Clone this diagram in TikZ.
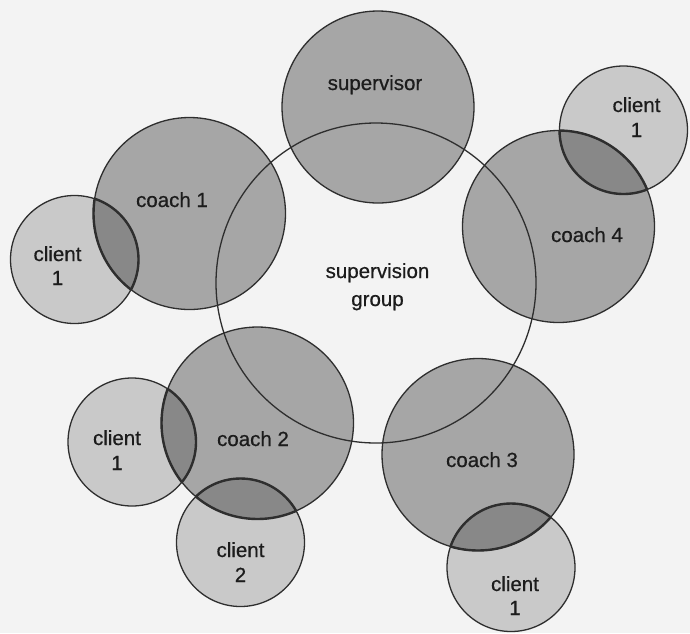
\documentclass[tikz,border=0pt]{standalone}
\usepackage{fontspec}
\setmainfont{Liberation Sans}[UprightFeatures={FakeBold=0.6}]
\definecolor{bg}{HTML}{F3F3F3}
\definecolor{coachfill}{HTML}{A6A6A6}
\definecolor{clientfill}{HTML}{C9C9C9}
\definecolor{lensfill}{HTML}{888888}
\definecolor{ink}{HTML}{2E2E2E}
\definecolor{textink}{HTML}{1C1C1C}
\tikzset{
  circ/.style={circle, inner sep=0pt, minimum size=#1},
  coachc/.style={circ=192pt, fill=coachfill},
  clientc/.style={circ=128pt, fill=clientfill},
  outl/.style={draw=ink, line width=1.3pt},
  lensl/.style={draw=ink, line width=2.4pt},
  lbl/.style={text=textink, font=\fontsize{20.5}{24}\selectfont, anchor=base, inner sep=0pt}
}
\begin{document}
\begin{tikzpicture}[x=1pt,y=-1pt]
\fill[bg] (0,0) rectangle (690,633);
\useasboundingbox (0,0) rectangle (690,633);
% fills
\node[coachc] (sup) at (378,107) {};
\node[coachc] (c1) at (189.5,213.5) {};
\node[coachc] (c4) at (558.5,226.5) {};
\node[coachc] (c2) at (257.5,423) {};
\node[coachc] (c3) at (478,454.5) {};
\node[clientc] (k1) at (74.5,259.5) {};
\node[clientc] (k4) at (623.5,130) {};
\node[clientc] (k2a) at (132,442) {};
\node[clientc] (k2b) at (240.5,542.5) {};
\node[clientc] (k3) at (511,567.5) {};
\node[circ=320pt] (grp) at (376,283) {};
% lenses
\foreach \co/\cl in {c1/k1, c4/k4, c2/k2a, c2/k2b, c3/k3}{
  \begin{scope}
    \clip (\cl.center) circle[radius=64];
    \fill[lensfill] (\co.center) circle[radius=96];
  \end{scope}
}
% outlines
\foreach \n in {sup,c1,c4,c2,c3}{\draw[outl] (\n.center) circle[radius=96];}
\foreach \n in {k1,k4,k2a,k2b,k3}{\draw[outl] (\n.center) circle[radius=64];}
\foreach \co/\cl in {c1/k1, c4/k4, c2/k2a, c2/k2b, c3/k3}{
  \begin{scope}
    \clip (\cl.center) circle[radius=64];
    \draw[lensl] (\co.center) circle[radius=96];
  \end{scope}
  \begin{scope}
    \clip (\co.center) circle[radius=96];
    \draw[lensl] (\cl.center) circle[radius=64];
  \end{scope}
}
\draw[outl] (grp.center) circle[radius=160];
% labels
\node[lbl] (tsup) at (375,90) {supervisor};
\node[lbl] (tgrp1) at (377.5,278) {supervision};
\node[lbl] (tgrp2) at (377.5,306) {group};
\node[lbl] (tc1) at (172,207) {coach 1};
\node[lbl] (tc4) at (587,242) {coach 4};
\node[lbl] (tc2) at (253,446) {coach 2};
\node[lbl] (tc3) at (482,467) {coach 3};
\node[lbl] (tk1a) at (57.5,261) {client};
\node[lbl] (tk1b) at (57.5,285) {1};
\node[lbl] (tk4a) at (636.5,112) {client};
\node[lbl] (tk4b) at (636.5,137) {1};
\node[lbl] (tk2aa) at (117,445) {client};
\node[lbl] (tk2ab) at (117,470) {1};
\node[lbl] (tk2ba) at (240.5,557) {client};
\node[lbl] (tk2bb) at (240.5,582) {2};
\node[lbl] (tk3a) at (515,591) {client};
\node[lbl] (tk3b) at (515,615) {1};
\end{tikzpicture}
\end{document}
